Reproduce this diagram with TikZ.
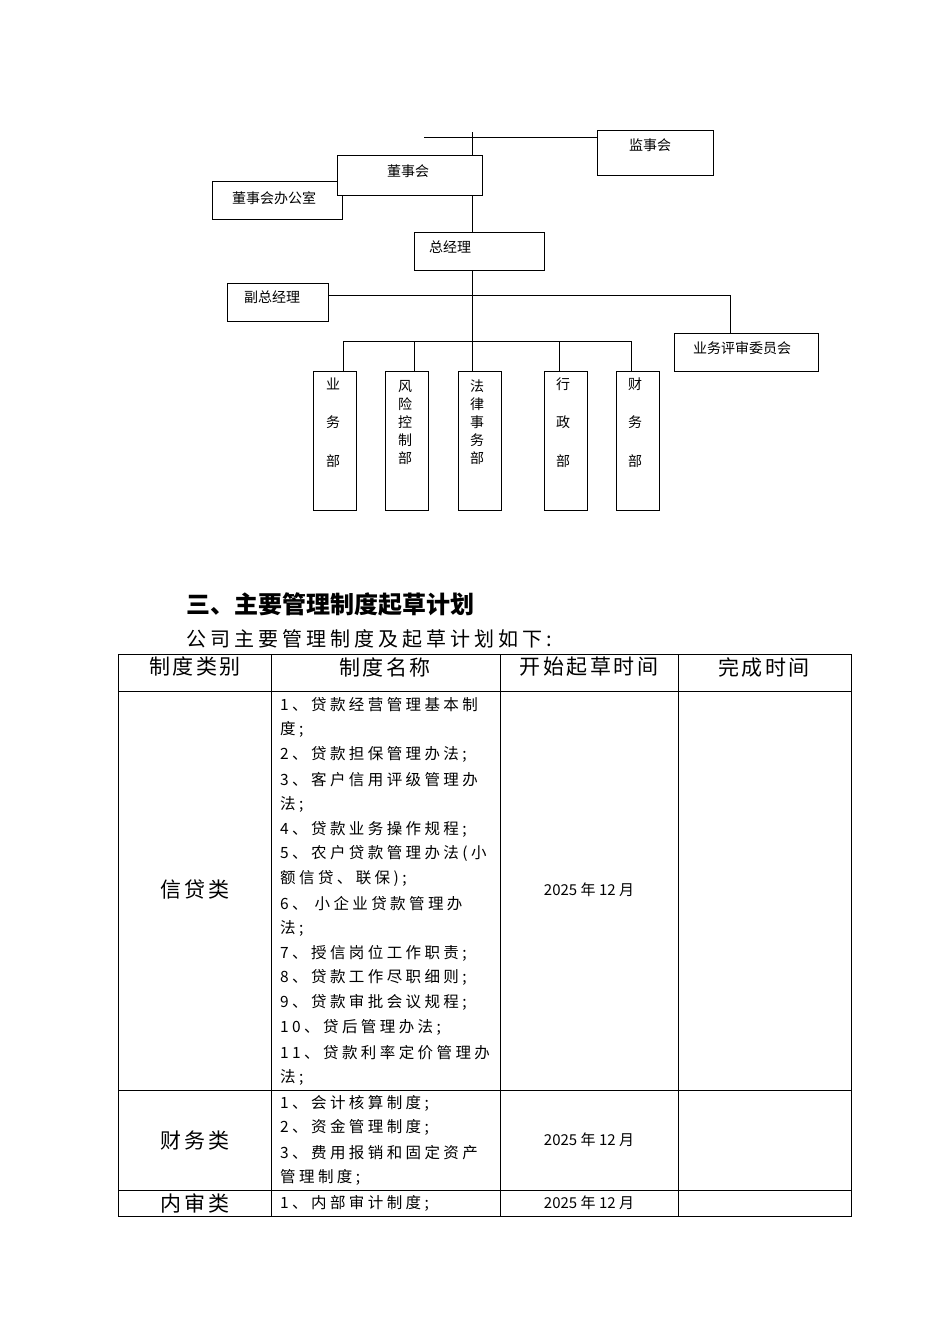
\documentclass[tikz,border=0pt]{standalone}
\usepackage{fontspec}
\newfontfamily\cjk{Noto Sans CJK SC}
\newfontfamily\cjks[LetterSpace=22]{Noto Sans CJK SC}
\newfontfamily\cjkh[LetterSpace=12]{Noto Sans CJK SC}
\newfontfamily\cjkt[LetterSpace=20]{Noto Sans CJK SC}
\begin{document}
\begin{tikzpicture}[x=1pt,y=-1pt,
  box/.style={draw,line width=0.8pt,inner sep=0,minimum width=#1},
  lbl/.style={font=\cjk\fontsize{14}{16}\selectfont,inner sep=0},
  ln/.style={line width=0.8pt},
  cell/.style={anchor=west,inner sep=0,font=\cjks\fontsize{15.5}{18}\selectfont},
  hd/.style={inner sep=0,font=\cjkh\fontsize{21}{24}\selectfont},
  dt/.style={inner sep=0,font=\cjk\fontsize{15}{18}\selectfont}]
\useasboundingbox (0,0) rectangle (950,1344);
% org chart boxes
\node[box=116pt,minimum height=45pt] (jsh) at (655,152.5) {};
\node[box=130pt,minimum height=38pt] (bgs) at (277,200) {};
\node[box=145pt,minimum height=40pt,fill=white] (dsh) at (409.5,175) {};
\node[box=130pt,minimum height=38pt] (zjl) at (479,251) {};
\node[box=101pt,minimum height=38pt] (fzjl) at (277.5,302) {};
\node[box=144pt,minimum height=38pt] (pshw) at (746,352) {};
\foreach \n/\x in {d1/334.5,d2/406.5,d3/479.5,d4/565.5,d5/638}
  \node[box=43pt,minimum height=139pt] (\n) at (\x,440.5) {};
\node[lbl] at (650,145) {监事会};
\node[lbl] at (408,171) {董事会};
\node[lbl] at (274,198) {董事会办公室};
\node[lbl] at (450,247) {总经理};
\node[lbl] at (272,297) {副总经理};
\node[lbl] at (742,348) {业务评审委员会};
\node[lbl] at (333,384) {业};
\node[lbl] at (333,422) {务};
\node[lbl] at (333,461) {部};
\node[lbl,align=center] at (405,422) {风\\[2pt]险\\[2pt]控\\[2pt]制\\[2pt]部};
\node[lbl,align=center] at (477,422) {法\\[2pt]律\\[2pt]事\\[2pt]务\\[2pt]部};
\node[lbl] at (563,384) {行};
\node[lbl] at (563,422) {政};
\node[lbl] at (563,461) {部};
\node[lbl] at (635,384) {财};
\node[lbl] at (635,422) {务};
\node[lbl] at (635,461) {部};
% connectors
\coordinate (tl) at (424,137);
\coordinate (tt) at (472,132);
\draw[ln] (tl) -- (jsh.west |- tl);
\draw[ln] (tt) -- (dsh.north -| tt);
\draw[ln] (dsh.south -| tt) -- (zjl.north -| tt);
\draw[ln] (zjl.south -| tt) -- (d3.north -| tt);
\draw[ln] (fzjl.east |- 0,295) -- (730,295) -- (pshw.north -| 730,0);
\draw[ln] (343,341) -- (631,341);
\foreach \n/\x in {d1/343,d2/414,d4/559,d5/631}
  \draw[ln] (\x,341) -- (\n.north -| \x,0);
% section title
\node[anchor=west,inner sep=0,font=\cjk\bfseries\fontsize{24}{28}\selectfont] at (186,604) {三、主要管理制度起草计划};
\node[anchor=west,inner sep=0,font=\cjkt\fontsize{20}{24}\selectfont] at (186,639) {公司主要管理制度及起草计划如下:};
% table
\draw[line width=0.7pt] (118,654) rectangle (851,1216);
\foreach \y in {691,1090,1190} \draw[line width=0.7pt] (118,\y) -- (851,\y);
\foreach \x in {271,500,678} \draw[line width=0.7pt] (\x,654) -- (\x,1216);
\node[hd] at (195,667) {制度类别};
\node[hd] at (385,667) {制度名称};
\node[hd] at (589,667) {开始起草时间};
\node[hd] at (764,667) {完成时间};
\foreach \t [count=\i from 0] in {1、贷款经营管理基本制,度;,2、贷款担保管理办法;,3、客户信用评级管理办,法;,4、贷款业务操作规程;,5、农户贷款管理办法(小,额信贷、联保);,6、 小企业贷款管理办,法;,7、授信岗位工作职责;,8、贷款工作尽职细则;,9、贷款审批会议规程;,10、贷后管理办法;,11、贷款利率定价管理办,法;}
  \node[cell] at (280,705+24.8*\i) {\t};
\foreach \t [count=\i from 0] in {1、会计核算制度;,2、资金管理制度;,3、费用报销和固定资产,管理制度;}
  \node[cell] at (280,1103+24.8*\i) {\t};
\node[cell] at (280,1203) {1、内部审计制度;};
\node[hd] at (195,890) {信贷类};
\node[hd] at (195,1140) {财务类};
\node[hd] at (195,1203) {内审类};
\node[dt] at (589,890) {2025 年 12 月};
\node[dt] at (589,1140) {2025 年 12 月};
\node[dt] at (589,1203) {2025 年 12 月};
\end{tikzpicture}
\end{document}
